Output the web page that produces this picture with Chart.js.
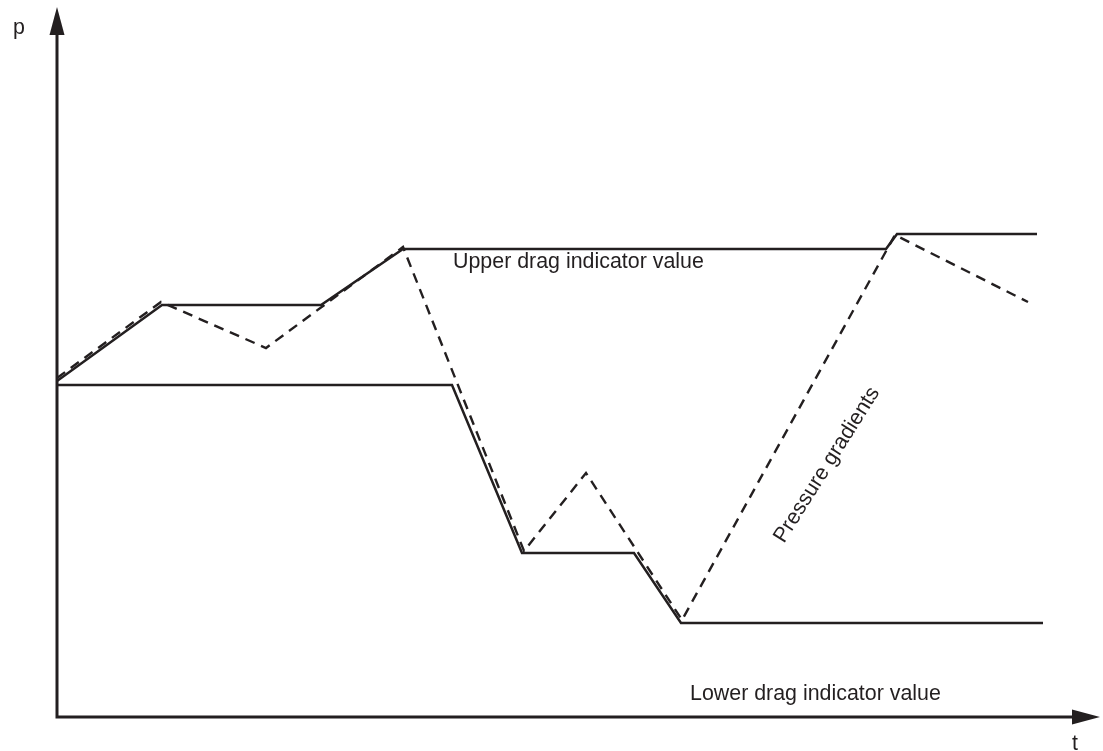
<!DOCTYPE html>
<html>
<head>
<meta charset="utf-8">
<script src="https://cdn.jsdelivr.net/npm/chart.js@4"></script>
<style>
  html, body { margin: 0; padding: 0; background: #fff; }
  #wrap { width: 1103px; height: 751px; }
</style>
</head>
<body>
<div id="wrap"><canvas id="chart" width="1103" height="751"></canvas></div>
<script>
// time axis (t) and pressure (p) values, same arbitrary units on both axes
const upperT = [0, 105, 264, 346, 829, 840, 980];
const upperP = [336, 412, 412, 468, 468, 483, 483];

const lowerT = [0, 395, 465, 577, 624, 986];
const lowerP = [332, 332, 164, 164, 94, 94];

const pressureT = [0, 104, 209, 346, 467, 529, 625, 838, 971];
const pressureP = [339, 415, 369, 470, 166, 244, 97, 482, 415];

const axisTMax = 1043;
const axisPMax = 710;

const labels = [
    { text: "p", t: -44, p: 683, angle: 0 },
    { text: "t", t: 1015, p: -33, angle: 0 },
    { text: "Upper drag indicator value", t: 396, p: 449, angle: 0 },
    { text: "Lower drag indicator value", t: 633, p: 17, angle: 0 },
    { text: "Pressure gradients", t: 727, p: 173, angle: -57.7 }
];

const ink = "#231f20";

const toPoints = (ts, ps) => ts.map((t, i) => ({ x: t, y: ps[i] }));

// axes with arrow heads and the free text labels
const diagramPlugin = {
    id: "diagram",
    afterDatasetsDraw(chart) {
        const { ctx, scales } = chart;
        const x = v => scales.x.getPixelForValue(v);
        const y = v => scales.y.getPixelForValue(v);
        ctx.save();
        ctx.strokeStyle = ink;
        ctx.fillStyle = ink;
        ctx.lineWidth = 3;
        ctx.lineCap = "butt";

        ctx.beginPath();
        ctx.moveTo(x(0), y(0) + 1.5);
        ctx.lineTo(x(0), y(axisPMax) + 20);
        ctx.moveTo(x(0) - 1.5, y(0));
        ctx.lineTo(x(axisTMax) - 20, y(0));
        ctx.stroke();

        // y arrow
        ctx.beginPath();
        ctx.moveTo(x(0), y(axisPMax));
        ctx.lineTo(x(0) - 7.5, y(axisPMax) + 28);
        ctx.lineTo(x(0) + 7.5, y(axisPMax) + 28);
        ctx.closePath();
        ctx.fill();

        // x arrow
        ctx.beginPath();
        ctx.moveTo(x(axisTMax), y(0));
        ctx.lineTo(x(axisTMax) - 28, y(0) - 7.5);
        ctx.lineTo(x(axisTMax) - 28, y(0) + 7.5);
        ctx.closePath();
        ctx.fill();

        ctx.font = "21.4px 'Liberation Sans', Arial, sans-serif";
        ctx.textAlign = "left";
        ctx.textBaseline = "alphabetic";
        ctx.fillStyle = "#231f20";
        labels.forEach(l => {
            ctx.save();
            ctx.translate(x(l.t), y(l.p));
            ctx.rotate(l.angle * Math.PI / 180);
            ctx.fillText(l.text, 0, 0);
            ctx.restore();
        });
        ctx.restore();
    }
};

new Chart(document.getElementById("chart"), {
    type: "scatter",
    data: {
        datasets: [
            { label: "Upper drag indicator", data: toPoints(upperT, upperP), showLine: true, borderColor: ink, borderWidth: 2.5, pointRadius: 0, tension: 0 },
            { label: "Lower drag indicator", data: toPoints(lowerT, lowerP), showLine: true, borderColor: ink, borderWidth: 2.5, pointRadius: 0, tension: 0 },
            { label: "Pressure", data: toPoints(pressureT, pressureP), showLine: true, borderColor: ink, borderWidth: 2.4, borderDash: [10, 7], pointRadius: 0, tension: 0 }
        ]
    },
    options: {
        responsive: false,
        animation: false,
        clip: false,
        layout: { padding: 0 },
        plugins: { legend: { display: false }, tooltip: { enabled: false } },
        scales: {
            x: { type: "linear", min: -57, max: 1046, display: false },
            y: { type: "linear", min: -34, max: 717, display: false }
        }
    },
    plugins: [diagramPlugin]
});
</script>
</body>
</html>
